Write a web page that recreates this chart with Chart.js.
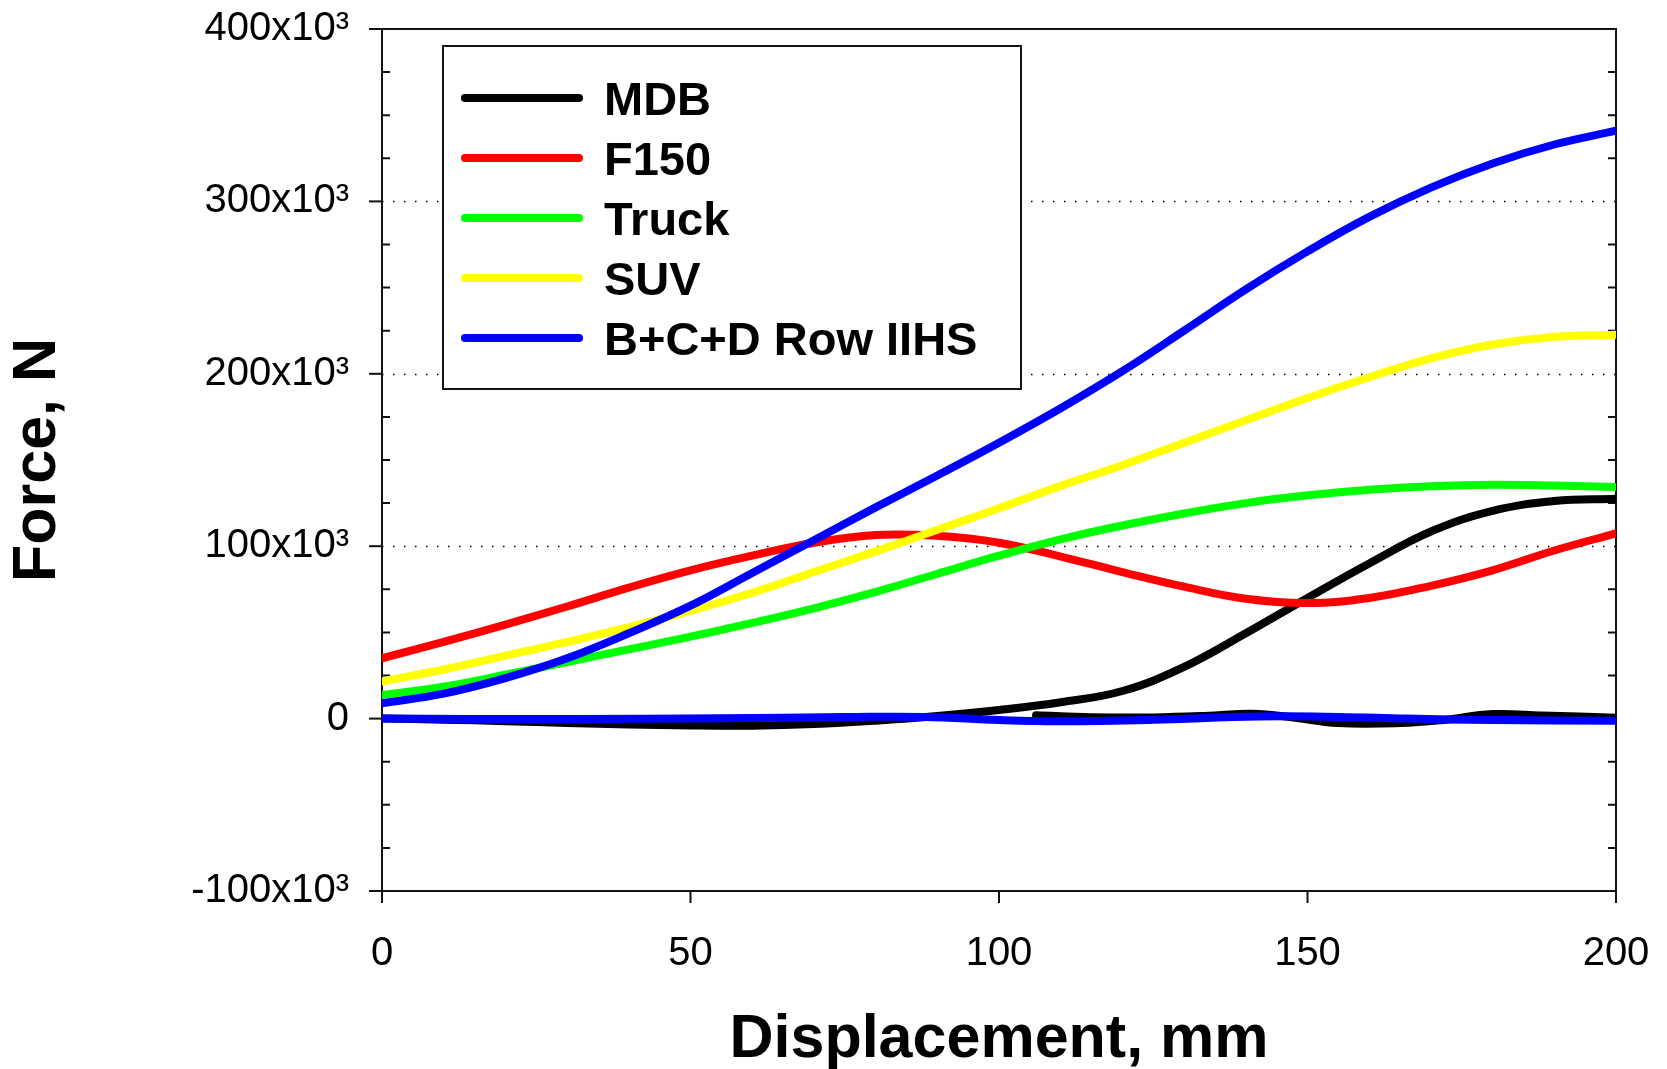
<!DOCTYPE html>
<html>
<head>
<meta charset="utf-8">
<script src="https://cdn.jsdelivr.net/npm/chart.js@4.4.1/dist/chart.umd.min.js"></script>
<style>
  html, body { margin: 0; padding: 0; background: #fff; }
  #wrap { width: 1667px; height: 1069px; position: relative; }
</style>
</head>
<body>
<div id="wrap"><canvas id="forceChart"></canvas></div>
<script>
const xMm = [0, 10, 20, 30, 40, 50, 60, 70, 80, 90, 100, 110, 120, 130, 140, 150, 160, 170, 180, 190, 200];

// Force values, N
const mdbForce   = [0, -600, -1500, -2500, -3400, -4000, -4100, -3200, -1200, 1500, 5000, 9500, 16000, 30000, 49500, 70000, 90000, 108500, 120500, 126200, 127500];
const f150Force  = [35000, 44500, 54500, 65000, 76000, 86000, 94500, 102000, 106500, 106000, 102000, 94000, 85000, 76500, 69500, 67000, 70000, 77000, 86000, 97500, 107500];
const truckForce = [13700, 18500, 25500, 32800, 40200, 47500, 55500, 64000, 73500, 84000, 94500, 104000, 112000, 119000, 125000, 129500, 132800, 134800, 135600, 135200, 134400];
const suvForce   = [21500, 28500, 36500, 44500, 53000, 62500, 73000, 85000, 97000, 109500, 122000, 135000, 147000, 160000, 173000, 186000, 198000, 209000, 217000, 221500, 222700];
const iihsForce  = [8900, 14500, 23500, 35000, 49500, 65500, 84500, 103500, 122500, 141000, 160000, 180000, 201500, 225000, 249000, 271000, 291000, 308000, 322000, 333000, 341000];

// the two traces that stay near zero
const mdbTailX     = [106, 115, 125, 135, 141, 148, 155, 165, 172, 180, 188, 200];
const mdbTailForce = [2000, 800, 700, 1800, 2800, 500, -2600, -2600, -800, 2600, 1800, 500];
const iihsBaseX     = [0, 30, 55, 75, 88, 100, 110, 125, 142, 155, 166, 180, 200];
const iihsBaseForce = [0, -300, 200, 900, 1000, -800, -1500, -700, 1200, 1000, 0, -800, -1300];

const seriesNames  = ['MDB', 'F150', 'Truck', 'SUV', 'B+C+D Row IIHS'];
const seriesColors = ['#000000', '#ff0000', '#00ff00', '#ffff00', '#0000ff'];

const FONT = 'Liberation Sans, Arial, sans-serif';

function toPoints(xs, ys) {
    return xs.map((x, i) => ({ x: x, y: ys[i] }));
}

function lineSet(label, xs, ys, color, order) {
    return {
        label: label,
        data: toPoints(xs, ys),
        borderColor: color,
        backgroundColor: color,
        borderWidth: 8,
        borderCapStyle: 'round',
        borderJoinStyle: 'round',
        pointRadius: 0,
        tension: 0.4,
        fill: false,
        order: order
    };
}

// frame, ticks and dotted grid like the original plot
const framePlugin = {
    id: 'frame',
    beforeDatasetsDraw(chart) {
        const { ctx, chartArea: a, scales: { x, y } } = chart;
        ctx.save();
        ctx.strokeStyle = '#000';
        ctx.lineWidth = 1.5;
        ctx.setLineDash([1.5, 9.5]);
        [100000, 200000, 300000].forEach(v => {
            const py = Math.round(y.getPixelForValue(v)) + 0.5;
            ctx.beginPath();
            ctx.moveTo(a.left, py);
            ctx.lineTo(a.right, py);
            ctx.stroke();
        });
        ctx.setLineDash([]);
        ctx.strokeStyle = '#111';
        ctx.lineWidth = 2;
        ctx.strokeRect(a.left, a.top, a.right - a.left, a.bottom - a.top);
        for (let v = y.min; v <= y.max; v += 25000) {
            const py = y.getPixelForValue(v);
            ctx.beginPath();
            if (v % 100000 === 0) {
                ctx.moveTo(a.left - 13, py);
                ctx.lineTo(a.left, py);
            } else {
                ctx.moveTo(a.left, py);
                ctx.lineTo(a.left + 8, py);
                ctx.moveTo(a.right - 8, py);
                ctx.lineTo(a.right, py);
            }
            ctx.stroke();
        }
        for (let v = x.min; v <= x.max; v += 50) {
            const px = x.getPixelForValue(v);
            ctx.beginPath();
            ctx.moveTo(px, a.bottom);
            ctx.lineTo(px, a.bottom + 12);
            ctx.stroke();
        }
        ctx.restore();
    },
    afterDatasetsDraw(chart) {
        // boxed legend inside the plot
        const { ctx, chartArea: a } = chart;
        const left = a.left + 61, top = a.top + 17;
        ctx.save();
        ctx.fillStyle = '#fff';
        ctx.fillRect(left, top, 578, 343);
        ctx.strokeStyle = '#111';
        ctx.lineWidth = 2;
        ctx.strokeRect(left, top, 578, 343);
        ctx.font = 'bold 47px ' + FONT;
        ctx.textBaseline = 'alphabetic';
        ctx.textAlign = 'left';
        seriesNames.forEach((name, i) => {
            const ry = top + 52 + i * 60;
            ctx.strokeStyle = seriesColors[i];
            ctx.lineWidth = 8;
            ctx.lineCap = 'round';
            ctx.beginPath();
            ctx.moveTo(left + 22, ry);
            ctx.lineTo(left + 136, ry);
            ctx.stroke();
            ctx.fillStyle = '#000';
            ctx.fillText(name, left + 161, ry + 17);
        });
        ctx.restore();
    }
};

new Chart(document.getElementById('forceChart'), {
    type: 'line',
    data: {
        datasets: [
            lineSet('MDB', xMm, mdbForce, seriesColors[0], 5),
            lineSet('MDB tail', mdbTailX, mdbTailForce, seriesColors[0], 6),
            lineSet('F150', xMm, f150Force, seriesColors[1], 4),
            lineSet('Truck', xMm, truckForce, seriesColors[2], 3),
            lineSet('SUV', xMm, suvForce, seriesColors[3], 2),
            lineSet('B+C+D Row IIHS', xMm, iihsForce, seriesColors[4], 1),
            lineSet('B+C+D Row IIHS base', iihsBaseX, iihsBaseForce, seriesColors[4], 0)
        ]
    },
    options: {
        responsive: true,
        maintainAspectRatio: false,
        animation: false,
        layout: { padding: { top: 29, right: 51, left: 0, bottom: 0 } },
        plugins: {
            legend: { display: false },
            tooltip: { enabled: false }
        },
        scales: {
            x: {
                type: 'linear',
                min: 0,
                max: 200,
                grid: { display: false },
                border: { display: false },
                ticks: {
                    stepSize: 50,
                    padding: 31,
                    maxRotation: 0,
                    color: '#000',
                    font: { family: FONT, size: 40 }
                },
                title: {
                    display: true,
                    text: 'Displacement, mm',
                    color: '#000',
                    padding: 0,
                    font: { family: FONT, size: 61, weight: 'bold', lineHeight: 0.95 }
                },
                afterFit: s => {
                    s.height = 178;
                    s.paddingLeft = 0;
                    s.paddingRight = 0;
                }
            },
            y: {
                min: -100000,
                max: 400000,
                grid: { display: false },
                border: { display: false },
                ticks: {
                    stepSize: 100000,
                    padding: 25,
                    color: '#000',
                    font: { family: FONT, size: 40 },
                    callback: v => v === 0 ? '0' : (v / 1000) + 'x10³'
                },
                title: {
                    display: true,
                    text: 'Force, N',
                    color: '#000',
                    padding: { top: 2, bottom: 0 },
                    font: { family: FONT, size: 61, weight: 'bold' }
                },
                afterFit: s => {
                    s.width = 382;
                    s.paddingTop = 0;
                    s.paddingBottom = 0;
                }
            }
        }
    },
    plugins: [framePlugin]
});
</script>
</body>
</html>
